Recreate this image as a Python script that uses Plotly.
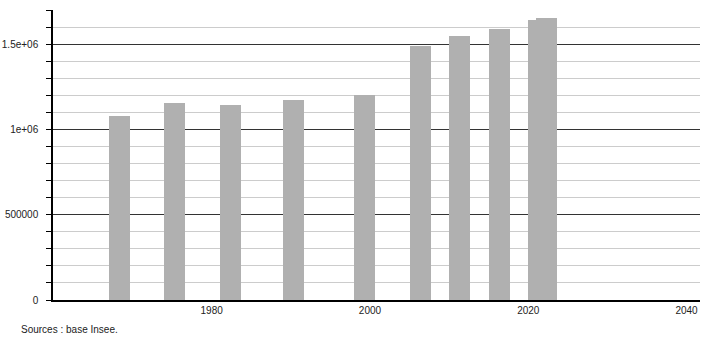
import plotly.graph_objects as go

years = [1968, 1975, 1982, 1990, 1999, 2006, 2011, 2016, 2021, 2022]
population = [1076000, 1153000, 1141000, 1171000, 1200000, 1488000, 1547000, 1588000, 1641000, 1653000]

y_tickvals = [0, 500000, 1000000, 1500000]
y_ticktext = ["0", "500000", "1e+06", "1.5e+06"]
x_tickvals = [1980, 2000, 2020, 2040]
source_text = "Sources : base Insee."

fig = go.Figure()
fig.add_trace(go.Bar(
    x=years, y=population,
    width=2.65, offset=-1.0,
    marker=dict(color="#b0b0b0", line=dict(width=0)),
    hoverinfo="x+y",
))

font = dict(family="Liberation Sans, Arial, sans-serif", size=10, color="#222")

fig.update_layout(
    template="none",
    width=710, height=340,
    margin=dict(l=53, r=10, t=10, b=40, pad=0, autoexpand=False),
    paper_bgcolor="white", plot_bgcolor="white",
    showlegend=False,
    font=font,
    bargap=0,
    xaxis=dict(
        range=[1959.95, 2041.7],
        tickvals=x_tickvals,
        ticktext=[str(v) for v in x_tickvals],
        showgrid=False, zeroline=False,
        showline=True, linecolor="#000", linewidth=1.5,
        ticks="", ticklen=0,
        tickfont=font,
        automargin=False,
        fixedrange=True,
    ),
    yaxis=dict(
        range=[0, 1700000],
        tickvals=y_tickvals,
        ticktext=y_ticktext,
        showgrid=True, gridcolor="#333", gridwidth=1,
        zeroline=False,
        showline=True, linecolor="#000", linewidth=1.5,
        ticks="outside", ticklen=5, tickcolor="#000", tickwidth=1,
        tickfont=font,
        ticklabelstandoff=6,
        automargin=False,
        minor=dict(dtick=100000, tick0=0, showgrid=True, gridcolor="#cccccc",
                   gridwidth=1, ticks="outside", ticklen=5, tickcolor="#000"),
        fixedrange=True,
    ),
    annotations=[dict(
        text=source_text, xref="paper", yref="paper",
        x=(19 - 53) / 647, y=-29 / 290, xanchor="left", yanchor="middle",
        showarrow=False, font=font,
    )],
)

fig.write_html("out.html")
